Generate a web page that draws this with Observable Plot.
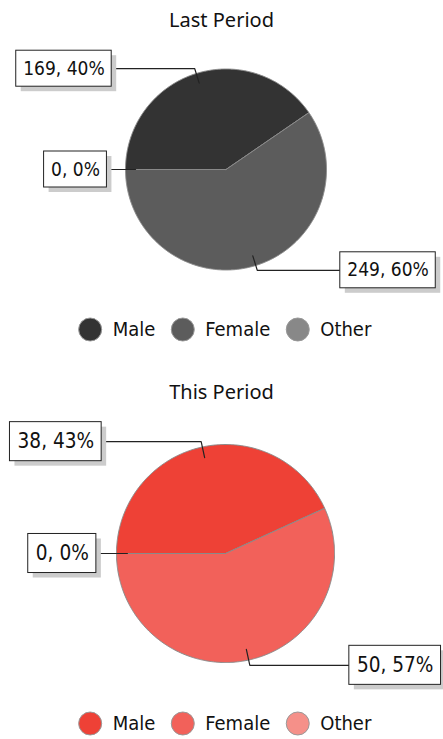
<!DOCTYPE html>
<html><head><meta charset="utf-8">
<script src="https://cdn.jsdelivr.net/npm/d3@7"></script>
<script src="https://cdn.jsdelivr.net/npm/@observablehq/plot@0.6"></script>
<style>
body{margin:0;background:#fff;width:443px;overflow:hidden}
.title{font-family:"Noto Sans";font-size:20px;height:40px;line-height:40px;text-align:center;color:#111}
svg{display:block}
</style></head><body><div id="root"></div>
<script>
const categories = ["Male", "Female", "Other"];
const periods = ["Last Period", "This Period"];
const lastValues = [169, 249, 0];
const thisValues = [38, 50, 0];
const lastColors = ["#333333", "#5c5c5c", "#888888"];
const thisColors = ["#ee4136", "#f2615a", "#f59089"];

const FONT = '"DejaVu Sans Condensed"';
const ctx = document.createElement("canvas").getContext("2d");
function textW(t, size) { ctx.font = `${size}px ${FONT}`; return ctx.measureText(t).width; }

function pieChart(values, colors, cfg) {
  const {H, cx, cy, r, legendY} = cfg;
  const s = r / 100.5;
  const total = d3.sum(values);
  const arcs = d3.pie().sort(null).startAngle(-Math.PI / 2).endAngle(3 * Math.PI / 2)(values);
  const px = (a, rr) => cx + rr * Math.sin(a);
  const py = (a, rr) => cy - rr * Math.cos(a);

  // slice polygons
  const slicePts = [];
  arcs.forEach((a, i) => {
    const span = a.endAngle - a.startAngle;
    if (span <= 0) return;
    const cat = categories[i];
    slicePts.push({cat, x: cx, y: cy});
    const n = Math.max(2, Math.ceil(span / 0.01));
    for (let k = 0; k <= n; k++) {
      const t = a.startAngle + span * k / n;
      slicePts.push({cat, x: px(t, r), y: py(t, r)});
    }
    slicePts.push({cat, x: cx, y: cy});
  });

  // labels
  const fs = 19 * s, bh = 36 * s, pad = 7 * s, sh = 5;
  const leaders = [], boxes = [];
  arcs.forEach((a, i) => {
    const mid = (a.startAngle + a.endAngle) / 2;
    const label = `${values[i]}, ${Math.round(values[i] / total * 100)}%`;
    const left = Math.sin(mid) < 0;
    const ex = px(mid, 1.05 * r), ey = py(mid, 1.05 * r);
    const off = r * 1.135 + 5 * s * (1 - Math.abs(Math.cos(mid)));
    const edge = left ? cx - off : cx + off;
    const w = textW(label, fs) + 2 * pad;
    const x1 = left ? edge - w : edge, x2 = left ? edge : edge + w;
    const id = categories[i];
    leaders.push({id, x: px(mid, 0.9 * r), y: py(mid, 0.9 * r)});
    leaders.push({id, x: ex, y: ey});
    leaders.push({id, x: edge, y: ey});
    boxes.push({id, label, x1, x2, y1: ey - bh / 2, y2: ey + bh / 2, xc: (x1 + x2) / 2, yc: ey});
  });

  // legend
  const lfs = 20, dr = 11.5, gapT = 11, gapI = 16;
  const items = categories.map(c => ({c, w: 2 * dr + gapT + textW(c, lfs)}));
  const tot = d3.sum(items, d => d.w) + gapI * (items.length - 1);
  let sx = 224.5 - tot / 2;
  const legend = items.map(it => { const o = {c: it.c, dx: sx + dr, tx: sx + 2 * dr + gapT, y: legendY}; sx += it.w + gapI; return o; });

  return Plot.plot({
    width: 443, height: H, margin: 0,
    x: {domain: [0, 443], range: [0, 443], axis: null},
    y: {domain: [0, H], range: [0, H], axis: null},
    color: {domain: categories, range: colors},
    style: {background: "white", overflow: "visible"},
    marks: [
      Plot.line(slicePts, {x: "x", y: "y", z: "cat", fill: "cat", stroke: "#8a8a8a", strokeWidth: 1, curve: "linear"}),
      Plot.line(leaders, {x: "x", y: "y", z: "id", stroke: "#222", strokeWidth: 1.2}),
      Plot.rect(boxes, {x1: d => d.x1 + sh, x2: d => d.x2 + sh, y1: d => d.y1 + sh, y2: d => d.y2 + sh, fill: "#cccccc"}),
      Plot.rect(boxes, {x1: "x1", x2: "x2", y1: "y1", y2: "y2", fill: "white", stroke: "#222", strokeWidth: 1}),
      Plot.text(boxes, {x: "xc", y: "yc", text: "label", fontSize: fs, fontFamily: FONT, fill: "#111", textAnchor: "middle", lineAnchor: "middle"}),
      Plot.dot(legend, {x: "dx", y: "y", r: dr, fill: "c", stroke: "#999", strokeWidth: 1}),
      Plot.text(legend, {x: "tx", y: "y", text: "c", fontSize: lfs, fontFamily: FONT, fill: "#111", textAnchor: "start", lineAnchor: "middle"})
    ]
  });
}

const root = document.getElementById("root");
function addTitle(t) { const d = document.createElement("div"); d.className = "title"; d.textContent = t; root.appendChild(d); }
addTitle(periods[0]);
root.appendChild(pieChart(lastValues, lastColors, {H: 332, cx: 225.5, cy: 129, r: 100.5, legendY: 289}));
addTitle(periods[1]);
root.appendChild(pieChart(thisValues, thisColors, {H: 327, cx: 225, cy: 141, r: 109, legendY: 311}));
</script></body></html>
